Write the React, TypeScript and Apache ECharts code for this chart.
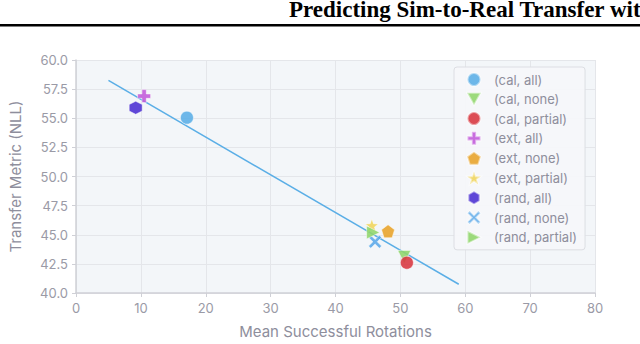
import React, { useEffect, useRef } from "react";
import * as echarts from "echarts";

const seriesNames = [
  "(cal, all)",
  "(cal, none)",
  "(cal, partial)",
  "(ext, all)",
  "(ext, none)",
  "(ext, partial)",
  "(rand, all)",
  "(rand, none)",
  "(rand, partial)",
];
const xValues = [17.1, 50.6, 51.0, 10.5, 48.1, 45.6, 9.2, 46.1, 45.8];
const yValues = [55.05, 43.1, 42.6, 56.9, 45.3, 45.8, 55.9, 44.4, 45.2];
const colors = [
  "#5aaee6",
  "#8fd66a",
  "#d8353d",
  "#c15ad9",
  "#e8a328",
  "#f0d55a",
  "#4a2fd2",
  "#5aa8e8",
  "#8fd66a",
];
const symbols = [
  "circle",
  "path://M0,9 L-9,-7 L9,-7 Z",
  "circle",
  "path://M-3,-9 H3 V-3 H9 V3 H3 V9 H-3 V3 H-9 V-3 H-3 Z",
  "path://M0,-9 L8.6,-2.8 L5.3,7.3 L-5.3,7.3 L-8.6,-2.8 Z",
  "path://M0,-10 L2.4,-3.3 L9.5,-3.1 L3.9,1.3 L5.9,8.1 L0,4.1 L-5.9,8.1 L-3.9,1.3 L-9.5,-3.1 L-2.4,-3.3 Z",
  "path://M0,-9 L7.8,-4.5 L7.8,4.5 L0,9 L-7.8,4.5 L-7.8,-4.5 Z",
  "path://M-6,-9 L0,-3 L6,-9 L9,-6 L3,0 L9,6 L6,9 L0,3 L-6,9 L-9,6 L-3,0 L-9,-6 Z",
  "path://M-8,-9 L10,0 L-8,9 Z",
];
const fitX = [5, 59];
const fitY = [58.25, 40.75];
const xTicks = [0, 80];
const yRange = [40, 60];

export default function App() {
  const ref = useRef<HTMLDivElement>(null);
  useEffect(() => {
    if (!ref.current) return;
    const chart = echarts.init(ref.current, null, { renderer: "svg" });
    const font = "Inter, 'Noto Sans', sans-serif";
    const scatter = seriesNames.map((name, i) => ({
      name,
      type: "scatter",
      data: [[xValues[i], yValues[i]]],
      symbol: symbols[i],
      symbolSize: 13,
      itemStyle: {
        color: colors[i],
        opacity: 0.88,
        borderColor: "rgba(255,255,255,0.55)",
        borderWidth: 1,
      },
      z: 3,
    }));
    chart.setOption({
      animation: false,
      backgroundColor: "#ffffff",
      grid: { left: 71, right: 45, top: 60, bottom: 46, show: true, backgroundColor: "#f3f6f9", borderWidth: 0 },
      xAxis: {
        type: "value",
        min: xTicks[0],
        max: xTicks[1],
        interval: 10,
        name: "Mean Successful Rotations",
        nameLocation: "middle",
        nameGap: 31,
        nameTextStyle: { color: "#8e8e9c", fontSize: 15, fontFamily: font },
        axisLine: { show: true, lineStyle: { color: "#cfd0d6", width: 1.5 } },
        axisTick: { show: true, length: 4, lineStyle: { color: "#cfd0d6" } },
        axisLabel: { color: "#9a9aa6", fontSize: 13, fontFamily: font, margin: 8 },
        splitLine: { show: true, lineStyle: { color: "#e4e6ea", width: 1 } },
      },
      yAxis: {
        type: "value",
        min: yRange[0],
        max: yRange[1],
        interval: 2.5,
        name: "Transfer Metric (NLL)",
        nameLocation: "middle",
        nameGap: 53,
        nameTextStyle: { color: "#8e8e9c", fontSize: 15, fontFamily: font },
        axisLine: { show: true, lineStyle: { color: "#cfd0d6", width: 1.5 } },
        axisTick: { show: true, length: 4, lineStyle: { color: "#cfd0d6" } },
        axisLabel: {
          color: "#9a9aa6",
          fontSize: 13,
          fontFamily: font,
          margin: 8,
          formatter: (v: number) => v.toFixed(1),
        },
        splitLine: { show: true, lineStyle: { color: "#e4e6ea", width: 1 } },
      },
      legend: {
        orient: "vertical",
        left: 454,
        top: 67,
        data: seriesNames,
        itemWidth: 14,
        itemHeight: 13,
        itemGap: 4.8,
        padding: [5, 8, 5, 12],
        backgroundColor: "rgba(245,247,250,0.95)",
        borderColor: "#dcdee3",
        borderWidth: 1,
        borderRadius: 3,
        textStyle: { color: "#8e8e9c", fontSize: 13, fontFamily: font, padding: [0, 0, 0, 8] },
      },
      series: [
        {
          name: "fit",
          type: "line",
          data: [
            [fitX[0], fitY[0]],
            [fitX[1], fitY[1]],
          ],
          symbol: "none",
          lineStyle: { color: "#5aaee6", width: 1.5 },
          z: 2,
        },
        ...scatter,
      ],
      graphic: [
        {
          type: "text",
          x: 289,
          y: -2,
          style: {
            text: "Predicting Sim-to-Real Transfer with",
            font: "bold 23px 'Liberation Serif', 'Times New Roman', serif",
            fill: "#000",
          },
        },
        {
          type: "rect",
          shape: { x: 0, y: 24, width: 640, height: 2.5 },
          style: { fill: "#000" },
        },
      ],
    });
    return () => chart.dispose();
  }, []);
  return <div ref={ref} style={{ width: 640, height: 344, position: "absolute", left: 0, top: 0 }} />;
}
